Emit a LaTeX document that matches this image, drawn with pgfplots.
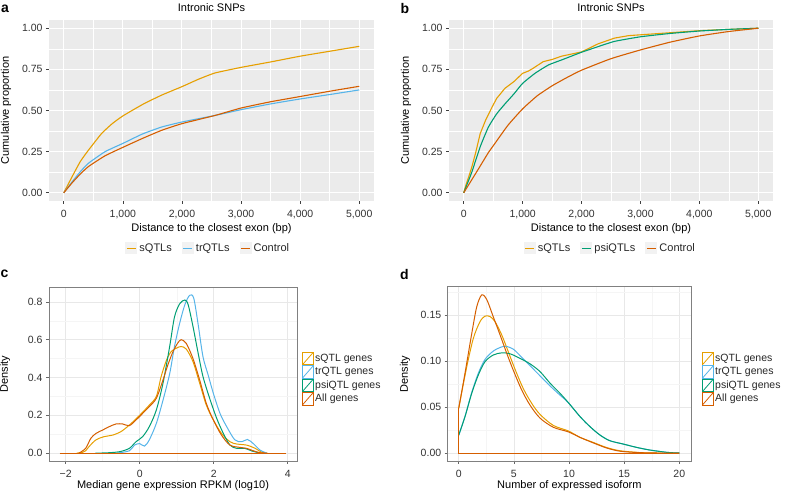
\documentclass[border=0pt]{standalone}
\usepackage{fontspec}
\setmainfont{Liberation Sans}
\usepackage{pgfplots}
\pgfplotsset{compat=1.18}
\definecolor{ggbg}{HTML}{EBEBEB}
\definecolor{sq}{HTML}{E69F00}
\definecolor{tr}{HTML}{56B4E9}
\definecolor{psi}{HTML}{009E73}
\definecolor{ctrl}{HTML}{D55E00}

\pgfplotsset{
  ggbase/.style={scale only axis, anchor=south west,
    /pgf/number format/assume math mode=true,
    tick label style={font=\fontsize{10.5bp}{12bp}\selectfont, text=black!80},
    xticklabel style={yshift=-3bp},
    label style={font=\fontsize{11bp}{13bp}\selectfont},
    title style={font=\fontsize{11bp}{13bp}\selectfont, anchor=center},
    tick align=outside, major tick length=3bp, minor tick length=0pt,
    xtick pos=bottom, ytick pos=left, grid=both,
    xlabel style={anchor=center}, ylabel style={anchor=center}},
  gggrey/.style={ggbase, axis background/.style={fill=ggbg},
    axis line style={draw=none},
    major grid style={white, line width=1bp},
    minor grid style={white, line width=0.5bp},
    tick style={black!75, line width=0.6bp},
    legend columns=-1,
    legend style={draw=none, fill=none, inner sep=0pt, anchor=center,
      font=\fontsize{11bp}{13bp}\selectfont,
      /tikz/every even column/.append style={column sep=8bp},
      nodes={inner sep=2bp, text=black!85}},
    legend image code/.code={
      \fill[black!5] (0bp,-5.5bp) rectangle (11bp,5.5bp);
      \draw[##1,line width=1bp] (1bp,0bp) -- (10bp,0bp);}},
  ggbw/.style={ggbase,
    axis line style={draw=black!50, line width=0.8bp},
    major grid style={black!9, line width=0.6bp},
    minor grid style={black!4, line width=0.4bp},
    tick style={black!60, line width=0.6bp},
    legend cell align=left,
    legend style={draw=none, fill=none, inner sep=0pt, anchor=west,
      font=\fontsize{10.5bp}{12bp}\selectfont, row sep=0pt,
      nodes={inner sep=1.5bp, text=black!85}},
    legend image code/.code={
      \draw[##1,fill=white,line width=0.8bp] (0bp,-6.3bp) rectangle (11bp,6.3bp);
      \draw[##1,line width=0.8bp] (0bp,-6.3bp) -- (11bp,6.3bp);}},
  cdf/.style={line width=1.1bp},
  dens/.style={line width=1bp, smooth, tension=0.5},
}

\begin{document}
\begin{tikzpicture}
\path[use as bounding box] (0,0) rectangle (788bp,494bp);

% panel letters
\node[font=\fontsize{14bp}{16bp}\selectfont\bfseries] at (5bp,485bp) {a};
\node[font=\fontsize{14bp}{16bp}\selectfont\bfseries] at (405bp,485bp) {b};
\node[font=\fontsize{14bp}{16bp}\selectfont\bfseries] at (4.5bp,220bp) {c};
\node[font=\fontsize{14bp}{16bp}\selectfont\bfseries] at (404.5bp,220bp) {d};

% ---- a
\begin{axis}[gggrey, at={(49bp,293bp)}, width=325bp, height=181bp,
  xmin=-250, xmax=5250, ymin=-0.05, ymax=1.05,
  xtick={0,1000,2000,3000,4000,5000},
  xticklabels={0,{1,000},{2,000},{3,000},{4,000},{5,000}},
  minor xtick={500,1500,2500,3500,4500},
  ytick={0,0.25,0.5,0.75,1}, yticklabels={0.00,0.25,0.50,0.75,1.00},
  minor ytick={0.125,0.375,0.625,0.875},
  title=Intronic SNPs, title style={at={(axis description cs:0.5,1.033)}},
  xlabel={Distance to the closest exon (bp)},
  xlabel style={at={(axis description cs:0.5,-0.151)}},
  ylabel={Cumulative proportion},
  ylabel style={at={(axis description cs:-0.132,0.5)}},
  legend style={at={(axis description cs:0.49,-0.26)}}]
\addplot[sq, cdf, smooth, tension=0.3] coordinates {(0,0) (140,0.097) (280,0.19) (420,0.26) (640,0.36) (820,0.42) (1000,0.467) (1350,0.54) (1660,0.594) (2000,0.645) (2280,0.69) (2560,0.728) (3000,0.762) (3500,0.795) (4000,0.83) (4500,0.86) (5000,0.89)};
\addlegendentry{sQTLs}
\addplot[tr, cdf, smooth, tension=0.3] coordinates {(0,0) (140,0.066) (280,0.128) (420,0.18) (700,0.25) (1000,0.30) (1330,0.357) (1660,0.40) (2000,0.43) (2560,0.47) (3000,0.505) (3500,0.54) (4000,0.57) (4500,0.597) (5000,0.625)};
\addlegendentry{trQTLs}
\addplot[ctrl, cdf, smooth, tension=0.3] coordinates {(0,0) (140,0.06) (280,0.114) (420,0.16) (700,0.225) (1000,0.276) (1330,0.33) (1660,0.38) (2000,0.42) (2560,0.47) (3000,0.515) (3500,0.553) (4000,0.585) (4500,0.617) (5000,0.647)};
\addlegendentry{Control}
\end{axis}

% ---- b
\begin{axis}[gggrey, at={(449bp,293bp)}, width=324bp, height=181bp,
  xmin=-250, xmax=5250, ymin=-0.05, ymax=1.05,
  xtick={0,1000,2000,3000,4000,5000},
  xticklabels={0,{1,000},{2,000},{3,000},{4,000},{5,000}},
  minor xtick={500,1500,2500,3500,4500},
  ytick={0,0.25,0.5,0.75,1}, yticklabels={0.00,0.25,0.50,0.75,1.00},
  minor ytick={0.125,0.375,0.625,0.875},
  title=Intronic SNPs, title style={at={(axis description cs:0.5,1.033)}},
  xlabel={Distance to the closest exon (bp)},
  xlabel style={at={(axis description cs:0.5,-0.151)}},
  ylabel={Cumulative proportion},
  ylabel style={at={(axis description cs:-0.133,0.5)}},
  legend style={at={(axis description cs:0.498,-0.26)}}]
\addplot[sq, cdf] coordinates {(0,0) (40,0.05) (85,0.097) (140,0.16) (200,0.24) (280,0.36) (370,0.44) (480,0.52) (560,0.574) (620,0.60) (700,0.635) (850,0.675) (1000,0.726) (1100,0.74) (1180,0.757) (1350,0.797) (1500,0.81) (1660,0.83) (2000,0.856) (2280,0.905) (2560,0.94) (2800,0.955) (3200,0.965) (3600,0.975) (4000,0.985) (4500,0.993) (5000,1)};
\addlegendentry{sQTLs}
\addplot[psi, cdf, smooth, tension=0.3] coordinates {(0,0) (85,0.077) (140,0.128) (280,0.28) (420,0.40) (560,0.48) (700,0.54) (850,0.60) (1000,0.665) (1210,0.726) (1440,0.777) (1660,0.807) (2000,0.854) (2280,0.888) (2560,0.92) (3000,0.948) (3500,0.968) (4000,0.983) (4500,0.993) (5000,1)};
\addlegendentry{psiQTLs}
\addplot[ctrl, cdf, smooth, tension=0.3] coordinates {(0,0) (100,0.058) (250,0.145) (420,0.245) (500,0.285) (750,0.41) (1000,0.51) (1250,0.59) (1500,0.65) (1750,0.70) (2000,0.745) (2500,0.815) (3000,0.868) (3500,0.915) (4000,0.953) (4500,0.98) (5000,1)};
\addlegendentry{Control}
\end{axis}

% ---- c
\begin{axis}[ggbw, at={(49bp,33bp)}, width=248bp, height=174bp,
  xmin=-2.45, xmax=4.25, ymin=-0.042, ymax=0.879,
  xtick={-2,0,2,4}, xticklabels={−2,0,2,4}, minor xtick={-1,1,3},
  ytick={0,0.2,0.4,0.6,0.8}, yticklabels={0.0,0.2,0.4,0.6,0.8},
  minor ytick={0.1,0.3,0.5,0.7},
  xlabel={Median gene expression RPKM (log10)},
  xlabel style={at={(axis description cs:0.5,-0.142)}},
  ylabel={Density},
  ylabel style={at={(axis description cs:-0.177,0.5)}},
  legend style={at={(axis description cs:1,0.473)}, xshift=4.7bp}]
\addplot[sq, dens] coordinates {(-1.7,0) (-1.55,0.003) (-1.46,0.012) (-1.37,0.034) (-1.18,0.07) (-0.96,0.087) (-0.73,0.095) (-0.51,0.113) (-0.28,0.148) (0,0.20) (0.26,0.254) (0.45,0.30) (0.58,0.405) (0.72,0.49) (0.85,0.537) (0.99,0.555) (1.12,0.564) (1.26,0.55) (1.44,0.484) (1.62,0.37) (1.80,0.254) (1.99,0.175) (2.21,0.104) (2.44,0.06) (2.62,0.048) (2.89,0.042) (3.12,0.025) (3.30,0.004) (3.45,0)};
\addlegendentry{sQTL genes}
\addplot[tr, dens] coordinates {(-0.6,0) (-0.28,0.012) (-0.14,0.042) (0,0.05) (0.13,0.037) (0.26,0.07) (0.45,0.157) (0.63,0.28) (0.81,0.42) (0.94,0.564) (1.08,0.687) (1.22,0.785) (1.35,0.835) (1.46,0.82) (1.58,0.68) (1.71,0.51) (1.85,0.413) (1.99,0.316) (2.17,0.21) (2.35,0.14) (2.57,0.07) (2.76,0.06) (2.91,0.072) (3.07,0.05) (3.25,0.016) (3.43,0)};
\addlegendentry{trQTL genes}
\addplot[psi, dens] coordinates {(-1.2,0) (-0.91,0.001) (-0.55,0.007) (-0.28,0.025) (-0.10,0.06) (0.08,0.087) (0.26,0.14) (0.45,0.228) (0.63,0.37) (0.81,0.564) (0.94,0.72) (1.08,0.79) (1.22,0.81) (1.31,0.785) (1.44,0.67) (1.58,0.528) (1.71,0.405) (1.89,0.29) (2.08,0.184) (2.26,0.104) (2.44,0.042) (2.62,0.025) (2.84,0.025) (3.03,0.011) (3.25,0)};
\addlegendentry{psiQTL genes}
\addplot[ctrl, dens] coordinates {(-1.64,0) (-1.46,0.025) (-1.32,0.078) (-1.18,0.104) (-1.0,0.122) (-0.82,0.14) (-0.64,0.154) (-0.46,0.154) (-0.28,0.145) (-0.10,0.175) (0.08,0.21) (0.26,0.246) (0.45,0.29) (0.63,0.387) (0.76,0.466) (0.9,0.537) (1.02,0.58) (1.12,0.60) (1.26,0.58) (1.44,0.50) (1.62,0.387) (1.80,0.263) (1.99,0.175) (2.21,0.095) (2.44,0.042) (2.71,0.03) (2.89,0.025) (3.07,0.012) (3.25,0.002) (3.45,0)};
\addlegendentry{All genes}
\addplot[ctrl, line width=1bp, forget plot] coordinates {(-2.16,0) (3.96,0)};
\end{axis}

% ---- d
\begin{axis}[ggbw, at={(447.7bp,33bp)}, width=243.3bp, height=174.3bp,
  xmin=-1, xmax=21.06, ymin=-0.0087, ymax=0.181,
  xtick={0,5,10,15,20}, minor xtick={2.5,7.5,12.5,17.5},
  ytick={0,0.05,0.1,0.15}, yticklabels={0.00,0.05,0.10,0.15},
  minor ytick={0.025,0.075,0.125,0.175},
  xlabel={Number of expressed isoform},
  xlabel style={at={(axis description cs:0.5,-0.142)}},
  ylabel={Density},
  ylabel style={at={(axis description cs:-0.1755,0.5)}},
  legend style={at={(axis description cs:1,0.472)}, xshift=10.7bp}]
\addplot[sq, dens] coordinates {(0,0.0487) (0.73,0.094) (1.33,0.125) (1.93,0.143) (2.39,0.149) (2.84,0.1485) (3.29,0.143) (3.90,0.1285) (4.50,0.110) (5.11,0.091) (5.86,0.070) (6.62,0.054) (7.37,0.042) (8.58,0.030) (9.94,0.024) (11.0,0.017) (12.2,0.0115) (13.4,0.006) (14.6,0.0025) (16.4,0.0005) (18,0) (20,0)};
\addlegendentry{sQTL genes}
\addplot[tr, dens] coordinates {(0,0.019) (0.57,0.040) (1.18,0.066) (1.78,0.087) (2.39,0.102) (3.14,0.111) (3.90,0.1155) (4.35,0.116) (4.95,0.113) (5.56,0.106) (6.47,0.095) (7.37,0.084) (8.28,0.073) (9.18,0.063) (9.94,0.0548) (11.0,0.0396) (11.9,0.0287) (12.8,0.0196) (13.7,0.0134) (14.9,0.0098) (16.1,0.0062) (17.3,0.0033) (18.9,0.0007) (20,0)};
\addlegendentry{trQTL genes}
\addplot[psi, dens] coordinates {(0,0.0196) (0.57,0.0396) (1.18,0.065) (1.78,0.085) (2.39,0.0995) (3.14,0.1067) (3.90,0.109) (4.65,0.108) (5.56,0.103) (6.47,0.097) (7.37,0.0886) (8.28,0.076) (9.18,0.065) (9.94,0.0548) (11.0,0.0396) (11.9,0.0287) (12.8,0.0196) (13.7,0.0134) (14.9,0.0098) (16.1,0.0062) (17.3,0.0033) (18.9,0.0007) (20,0)};
\addlegendentry{psiQTL genes}
\addplot[ctrl, dens] coordinates {(0,0.0487) (0.57,0.087) (1.18,0.13) (1.63,0.159) (2.08,0.172) (2.54,0.167) (3.14,0.148) (3.75,0.1285) (4.35,0.1086) (4.95,0.090) (5.71,0.0686) (6.47,0.052) (7.37,0.038) (8.58,0.028) (9.94,0.023) (11.0,0.017) (12.2,0.011) (13.4,0.0055) (14.6,0.002) (16.4,0.0004) (18,0) (20,0)};
\addlegendentry{All genes}
\addplot[ctrl, line width=1bp, forget plot] coordinates {(0,0.0487) (0,0) (20,0)};
\end{axis}
\end{tikzpicture}
\end{document}
